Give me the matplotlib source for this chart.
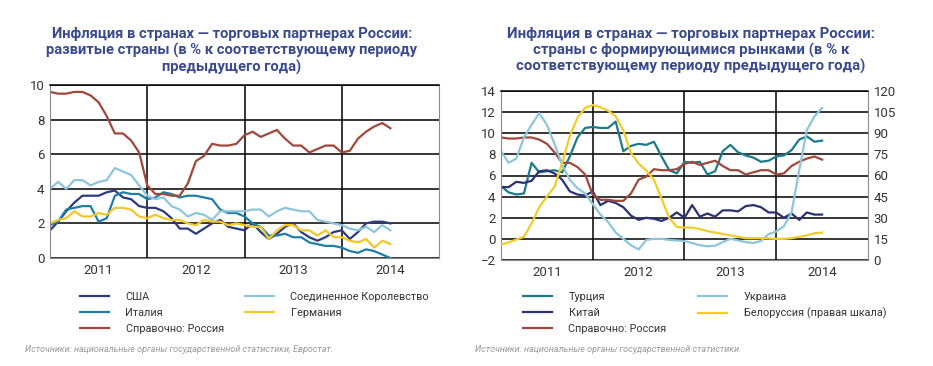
import numpy as np
import matplotlib
matplotlib.use('Agg')
import matplotlib.pyplot as plt

# monthly data, Jan 2011 .. Jul 2014
years = ['2011', '2012', '2013', '2014']

usa = [1.6, 2.1, 2.7, 3.2, 3.6, 3.6, 3.6, 3.8, 3.9, 3.5, 3.4, 3.0,
       2.9, 2.9, 2.7, 2.3, 1.7, 1.7, 1.4, 1.7, 2.0, 2.2, 1.8, 1.7,
       1.6, 2.0, 1.5, 1.1, 1.4, 1.8, 2.0, 1.5, 1.2, 1.0, 1.2, 1.5,
       1.6, 1.1, 1.5, 2.0, 2.1, 2.1, 2.0]
italy = [1.9, 2.1, 2.8, 2.9, 3.0, 3.0, 2.1, 2.3, 3.6, 3.8, 3.7, 3.7,
         3.4, 3.5, 3.8, 3.7, 3.5, 3.6, 3.6, 3.5, 3.4, 2.8, 2.6, 2.6,
         2.4, 2.0, 1.8, 1.3, 1.3, 1.4, 1.2, 1.2, 0.9, 0.8, 0.7, 0.7,
         0.6, 0.4, 0.3, 0.5, 0.4, 0.2, 0.0]
russia = [9.6, 9.5, 9.5, 9.6, 9.6, 9.4, 9.0, 8.2, 7.2, 7.2, 6.8, 6.1,
          4.2, 3.7, 3.7, 3.6, 3.6, 4.3, 5.6, 5.9, 6.6, 6.5, 6.5, 6.6,
          7.1, 7.3, 7.0, 7.2, 7.4, 6.9, 6.5, 6.5, 6.1, 6.3, 6.5, 6.5,
          6.1, 6.2, 6.9, 7.3, 7.6, 7.8, 7.5]
uk = [4.0, 4.4, 4.0, 4.5, 4.5, 4.2, 4.4, 4.5, 5.2, 5.0, 4.8, 4.2,
      3.6, 3.4, 3.5, 3.0, 2.8, 2.4, 2.6, 2.5, 2.2, 2.7, 2.7, 2.7,
      2.7, 2.8, 2.8, 2.4, 2.7, 2.9, 2.8, 2.7, 2.7, 2.2, 2.1, 2.0,
      1.9, 1.7, 1.6, 1.8, 1.5, 1.9, 1.6]
germany = [2.0, 2.2, 2.3, 2.7, 2.4, 2.4, 2.6, 2.5, 2.9, 2.9, 2.8, 2.4,
           2.3, 2.5, 2.3, 2.2, 2.2, 2.0, 1.9, 2.2, 2.1, 2.1, 1.9, 2.0,
           1.9, 1.8, 1.8, 1.1, 1.6, 1.9, 1.9, 1.6, 1.6, 1.3, 1.6, 1.2,
           1.2, 1.0, 0.9, 1.1, 0.6, 1.0, 0.8]

turkey = [5.0, 4.4, 4.2, 4.3, 7.2, 6.3, 6.4, 6.5, 6.3, 7.8, 9.6, 10.5,
          10.6, 10.5, 10.5, 11.1, 8.3, 8.8, 9.0, 8.9, 9.2, 7.8, 6.5, 6.2,
          7.3, 7.2, 7.3, 6.1, 6.4, 8.3, 8.9, 8.2, 7.9, 7.7, 7.3, 7.4,
          7.8, 7.9, 8.4, 9.4, 9.7, 9.2, 9.3]
china = [4.9, 4.9, 5.4, 5.3, 5.5, 6.4, 6.5, 6.2, 5.6, 4.5, 4.2, 4.1,
         4.5, 3.2, 3.6, 3.4, 3.0, 2.2, 1.8, 2.0, 1.9, 1.7, 2.0, 2.5,
         2.0, 3.2, 2.1, 2.4, 2.1, 2.7, 2.7, 2.6, 3.1, 3.2, 3.0, 2.5,
         2.5, 2.0, 2.4, 1.8, 2.5, 2.3, 2.3]
ukraine = [8.3, 7.2, 7.6, 9.6, 10.8, 11.9, 10.8, 9.0, 7.0, 5.6, 4.8, 4.3,
           3.3, 2.3, 1.6, 0.6, 0.0, -0.6, -1.0, -0.1, 0.0, 0.0, -0.1, -0.15,
           -0.2, -0.4, -0.6, -0.7, -0.65, -0.3, 0.0, -0.15, -0.3, -0.4, -0.2, 0.45,
           0.7, 1.2, 2.5, 6.5, 10.3, 11.6, 12.4]
belarus = [11, 12.5, 14.5, 16.5, 26, 37.5, 45, 52, 69, 88, 101, 108,
           110, 108.5, 106, 102, 92, 76, 68.5, 63.5, 57, 43.5, 30, 23.5,
           23, 23, 22, 20.5, 19.5, 18.5, 17.5, 16.5, 15.5, 15.5, 15.5, 15.3,
           15, 15, 15.5, 16.5, 17.5, 19, 19.5]

months = np.arange(len(usa))

title_color = '#3a4a8e'
title_font = ['Roboto', 'DejaVu Sans']
narrow = ['Liberation Sans Narrow', 'Roboto', 'DejaVu Sans']
tick_color = '#333333'

fig = plt.figure(figsize=(9.33, 3.66), dpi=100)
ax1 = fig.add_axes([50 / 933, 1 - 258 / 366, 389 / 933, 173 / 366])
ax2 = fig.add_axes([501 / 933, 1 - 260 / 366, 367 / 933, 169 / 366])


def style_axes(ax, ylo, yhi, step):
    ax.set_xlim(0, 48)
    ax.set_ylim(ylo, yhi)
    ax.set_yticks(np.arange(ylo, yhi + 0.1, step))
    ax.set_xticks([12, 24, 36])
    ax.set_xticks([6, 18, 30, 42], minor=True)
    ax.set_xticklabels([])
    ax.set_xticklabels(years, minor=True)
    ax.tick_params(which='both', length=0, pad=4, labelsize=9.5, labelcolor=tick_color)
    for lab in ax.get_xticklabels(minor=True) + ax.get_yticklabels():
        lab.set_family(narrow)
    ax.grid(True, which='major', color='black', lw=1.1)
    ax.set_axisbelow(True)
    for side in ['left', 'bottom', 'right']:
        ax.spines[side].set_color('#8a8a8a')
        ax.spines[side].set_linewidth(0.8)
    ax.spines['top'].set_color('black')
    ax.spines['top'].set_linewidth(1.1)


def column_legend(handles, labels, x_px, y_px):
    # one legend column, anchored at the start of its line handle
    fig.legend(handles, labels, loc='upper left', bbox_to_anchor=(x_px / 933, 1 - y_px / 366),
               frameon=False, borderpad=0, borderaxespad=0, handlelength=2.7,
               handletextpad=1.5, labelspacing=0.55,
               prop={'family': narrow, 'size': 7.8}, labelcolor='#333333')


lw = 1.6
style_axes(ax1, 0, 10, 2)
ax1.plot(months, usa, color='#2e3a80', lw=lw, label='США')
ax1.plot(months, italy, color='#1e7ea8', lw=lw, label='Италия')
ax1.plot(months, russia, color='#a0483c', lw=lw, label='Справочно: Россия')
ax1.plot(months, uk, color='#8ec5dc', lw=lw, label='Соединенное Королевство')
ax1.plot(months, germany, color='#f2c72a', lw=lw, label='Германия')

style_axes(ax2, -2, 14, 2)
ax2r = ax2.twinx()
ax2r.set_ylim(0, 120)
ax2r.set_yticks(np.arange(0, 121, 15))
ax2r.tick_params(length=0, pad=4, labelsize=9.5, labelcolor=tick_color)
for lab in ax2r.get_yticklabels():
    lab.set_family(narrow)
for s in ax2r.spines.values():
    s.set_visible(False)
ax2.plot(months, turkey, color='#1c7a8a', lw=lw, label='Турция')
ax2.plot(months, china, color='#2a3275', lw=lw, label='Китай')
ax2.plot(months, russia, color='#a0483c', lw=lw, label='Справочно: Россия')
ax2.plot(months, ukraine, color='#8ec5dc', lw=lw, label='Украина')
ax2r.plot(months, belarus, color='#f2cc2a', lw=lw, label='Белоруссия (правая шкала)')

# titles
fig.text(232 / 933, 1 - 27 / 366,
         'Инфляция в странах — торговых партнерах России:\n'
         'развитые страны (в % к соответствующему периоду\n'
         'предыдущего года)',
         ha='center', va='top', fontsize=10.6, fontweight='bold', color=title_color,
         family=title_font, linespacing=1.15)
fig.text(691 / 933, 1 - 27 / 366,
         'Инфляция в странах — торговых партнерах России:\n'
         'страны с формирующимися рынками (в % к\n'
         'соответствующему периоду предыдущего года)',
         ha='center', va='top', fontsize=10.8, fontweight='bold', color=title_color,
         family=title_font, linespacing=1.14)

# legends
h1, l1 = ax1.get_legend_handles_labels()
column_legend(h1[:3], l1[:3], 80, 292)
column_legend(h1[3:], l1[3:], 245, 292)
h2, l2 = ax2.get_legend_handles_labels()
h3, l3 = ax2r.get_legend_handles_labels()
h2, l2 = h2 + h3, l2 + l3
column_legend(h2[:3], l2[:3], 523, 292)
column_legend(h2[3:], l2[3:], 698, 292)

# sources
fig.text(25 / 933, 1 - 349 / 366,
         'Источники: национальные органы государственной статистики, Евростат.',
         ha='left', va='center', fontsize=6.5, style='italic', color='#9a9a9a', family=narrow)
fig.text(475 / 933, 1 - 349 / 366,
         'Источники: национальные органы государственной статистики.',
         ha='left', va='center', fontsize=6.5, style='italic', color='#9a9a9a', family=narrow)

fig.savefig('out.png', dpi=100, facecolor='white')
